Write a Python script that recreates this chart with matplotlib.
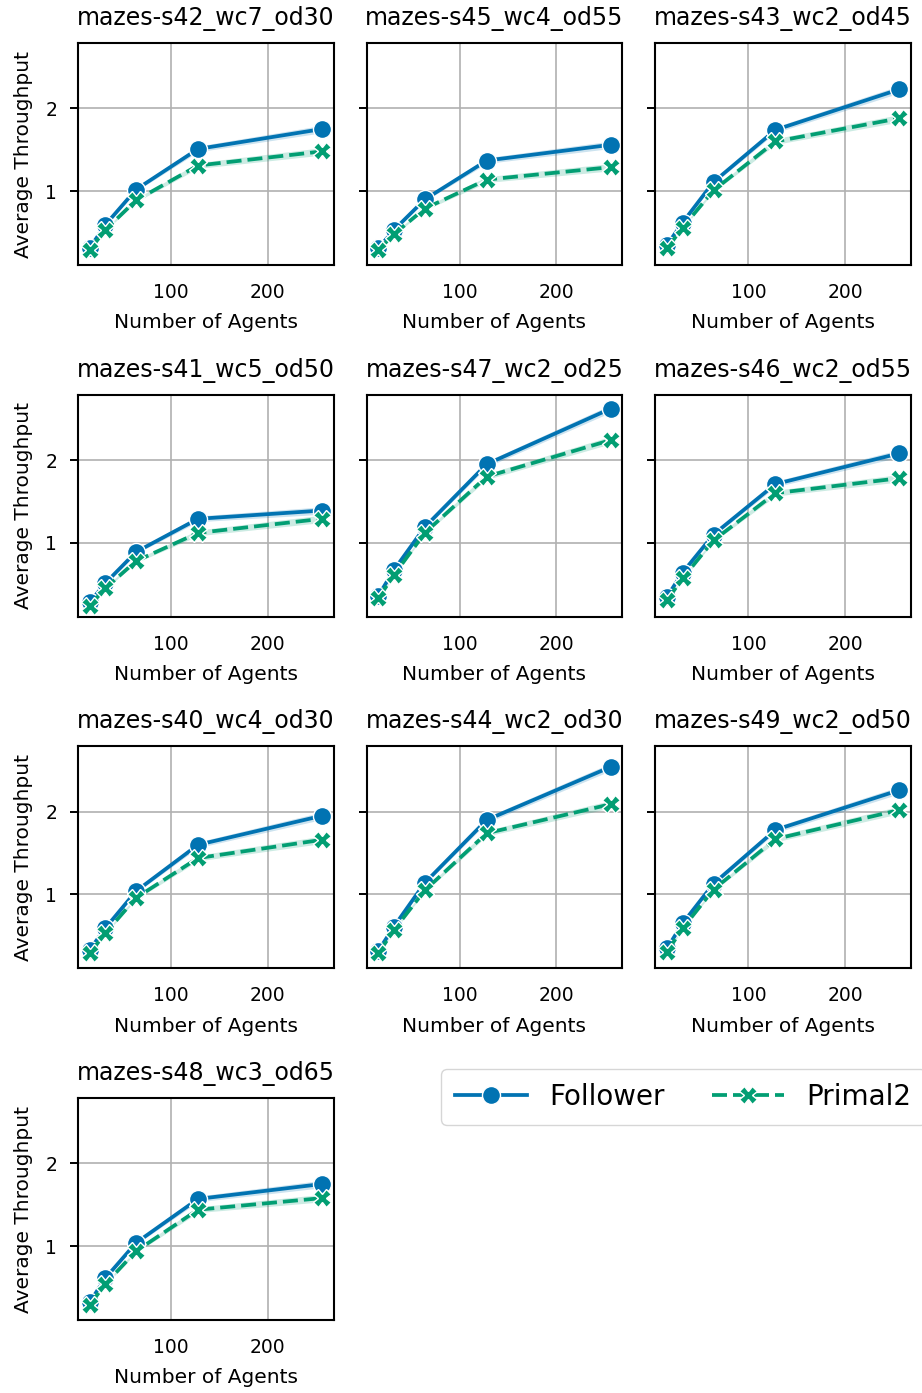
import numpy as np
import matplotlib
matplotlib.use("Agg")
import matplotlib.pyplot as plt

# number of agents on x axis
agents = [16, 32, 64, 128, 256]

maps = [
    "mazes-s42_wc7_od30", "mazes-s45_wc4_od55", "mazes-s43_wc2_od45",
    "mazes-s41_wc5_od50", "mazes-s47_wc2_od25", "mazes-s46_wc2_od55",
    "mazes-s40_wc4_od30", "mazes-s44_wc2_od30", "mazes-s49_wc2_od50",
    "mazes-s48_wc3_od65",
]

# average throughput
follower = [
    [0.31, 0.59, 1.02, 1.51, 1.75],
    [0.31, 0.53, 0.90, 1.37, 1.56],
    [0.35, 0.62, 1.11, 1.74, 2.23],
    [0.28, 0.51, 0.89, 1.29, 1.39],
    [0.36, 0.67, 1.19, 1.95, 2.62],
    [0.35, 0.64, 1.10, 1.71, 2.08],
    [0.33, 0.59, 1.04, 1.60, 1.95],
    [0.32, 0.61, 1.14, 1.90, 2.54],
    [0.35, 0.65, 1.13, 1.78, 2.26],
    [0.32, 0.61, 1.04, 1.57, 1.75],
]
primal2 = [
    [0.29, 0.53, 0.89, 1.31, 1.48],
    [0.29, 0.48, 0.79, 1.14, 1.29],
    [0.31, 0.56, 1.01, 1.60, 1.88],
    [0.24, 0.45, 0.78, 1.12, 1.29],
    [0.33, 0.61, 1.12, 1.80, 2.24],
    [0.31, 0.57, 1.03, 1.60, 1.78],
    [0.29, 0.53, 0.96, 1.44, 1.66],
    [0.29, 0.57, 1.05, 1.74, 2.09],
    [0.31, 0.59, 1.06, 1.67, 2.02],
    [0.29, 0.54, 0.94, 1.44, 1.58],
]
# rough half width of the confidence band per agent count
band = [0.01, 0.015, 0.02, 0.035, 0.045]

BLUE = "#0173b2"
GREEN = "#029e73"

fig, axes = plt.subplots(4, 3, figsize=(9.22, 13.93), dpi=100, sharey=True)
fig.subplots_adjust(left=0.0846, right=0.988, top=0.969, bottom=0.0524,
                    wspace=0.13, hspace=0.585)
axes = axes.flatten()

x = np.array(agents)
b = np.array(band)
for i, ax in enumerate(axes):
    if i >= len(maps):
        ax.set_visible(False)
        continue
    f = np.array(follower[i])
    p = np.array(primal2[i])
    ax.fill_between(x, f - b, f + b, color=BLUE, alpha=0.2, lw=0)
    ax.fill_between(x, p - b, p + b, color=GREEN, alpha=0.2, lw=0)
    ax.plot(x, f, color=BLUE, lw=2.7, marker="o", ms=13,
            mec="white", mew=1.0, label="Follower")
    ax.plot(x, p, color=GREEN, lw=2.7, ls=(0, (4, 1.6)), marker="X", ms=12.5,
            mec="white", mew=1.0, label="Primal2")
    ax.set_title(maps[i], fontsize=17, pad=13)
    ax.set_xlabel("Number of Agents", fontsize=14.5, labelpad=8)
    if i % 3 == 0:
        ax.set_ylabel("Average Throughput", fontsize=14.5, labelpad=9)
    ax.set_xticks([100, 200])
    ax.set_yticks([1, 2])
    ax.grid(True, color="#b0b0b0", lw=1.2)
    ax.set_axisbelow(True)
    ax.tick_params(axis="x", length=0, labelsize=13.5, pad=13)
    ax.tick_params(axis="y", length=6, width=1.4, labelsize=13.5, pad=9,
                   labelleft=(i % 3 == 0))
    for s in ax.spines.values():
        s.set_linewidth(1.5)
        s.set_color("black")

handles, labels = axes[0].get_legend_handles_labels()
fig.legend(handles, labels, loc="center", bbox_to_anchor=(0.741, 0.2125),
           ncol=2, fontsize=20, frameon=True, edgecolor="#cccccc",
           handlelength=2.6, columnspacing=1.7, borderpad=0.5)

fig.savefig("out.png", dpi=100)
